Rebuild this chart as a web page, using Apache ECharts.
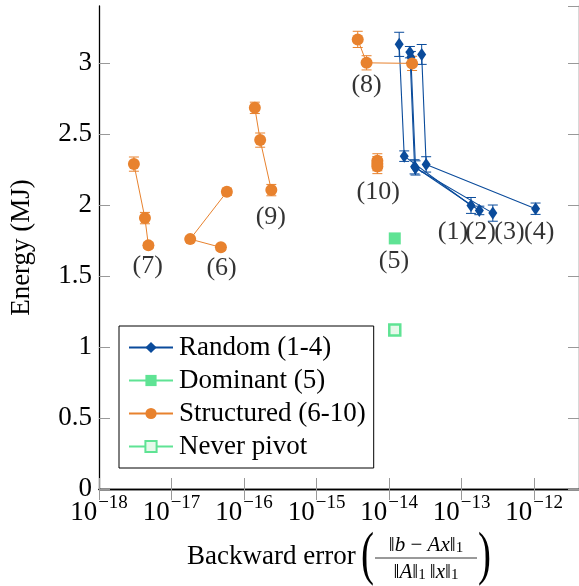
<!DOCTYPE html>
<html>
<head>
<meta charset="utf-8">
<script src="https://cdn.jsdelivr.net/npm/echarts@6/dist/echarts.min.js"></script>
<style>
  html, body { margin: 0; padding: 0; background: #fff; }
  #chart { width: 579px; height: 586px; }
</style>
</head>
<body>
<div id="chart"></div>
<script>
// data
var randomX = [
  [1.38e-14, 1.62e-14, 1.35e-13],
  [1.94e-14, 2.25e-14, 1.76e-13],
  [2.0e-14, 2.32e-14, 2.7e-13],
  [2.82e-14, 3.25e-14, 1.05e-12]
];
var randomY = [
  [3.13, 2.343, 1.996],
  [3.075, 2.268, 1.961],
  [3.04, 2.26, 1.942],
  [3.059, 2.285, 1.973]
];
var randomErr = [
  [0.085, 0.037, 0.056],
  [0.04, 0.05, 0.03],
  [0.04, 0.05, 0.057],
  [0.07, 0.054, 0.04]
];

var dominantX = [1.2e-14];
var dominantY = [1.764];

var neverX = [1.2e-14];
var neverY = [1.119];

// groups (6), (7), (8), (9), (10)
var structX = [
  [4.8e-17, 1.81e-17, 5.8e-17],
  [3.03e-18, 4.3e-18, 4.8e-18],
  [3.7e-15, 4.9e-15, 2.08e-14],
  [1.41e-16, 1.67e-16, 2.38e-16],
  [6.9e-15, 6.9e-15, 6.9e-15]
];
var structY = [
  [1.701, 1.759, 2.092],
  [2.287, 1.907, 1.715],
  [3.165, 3.0, 2.996],
  [2.683, 2.456, 2.104],
  [2.31, 2.29, 2.27]
];
var structErr = [
  [0.02, 0.02, 0.025],
  [0.05, 0.04, 0.02],
  [0.057, 0.05, 0.05],
  [0.04, 0.05, 0.04],
  [0.05, 0.05, 0.05]
];

var labelText = ['(1)', '(2)', '(3)', '(4)', '(5)', '(6)', '(7)', '(8)', '(9)', '(10)'];
var labelX = [7.6e-14, 1.84e-13, 4.58e-13, 1.18e-12, 1.17e-14, 4.9e-17, 4.7e-18, 4.9e-15, 2.34e-16, 7.1e-15];
var labelY = [1.809, 1.809, 1.809, 1.809, 1.604, 1.555, 1.569, 2.843, 1.914, 2.09];

var blue = '#0a4b9b';
var orange = '#e8822e';
var green = '#5fe394';
var serif = 'Liberation Serif, DejaVu Serif, serif';
var fs = 27;

function zip(xs, ys) {
  var out = [];
  for (var i = 0; i < xs.length; ++i) out.push([xs[i], ys[i]]);
  return out;
}

function zip3(xs, ys, es) {
  var out = [];
  for (var i = 0; i < xs.length; ++i) out.push([xs[i], ys[i], es[i]]);
  return out;
}

function errorBars(color, data) {
  return {
    type: 'custom',
    z: 1,
    silent: true,
    data: data,
    renderItem: function (params, api) {
      var x = api.value(0), y = api.value(1), e = api.value(2);
      var top = api.coord([x, y + e]);
      var bot = api.coord([x, y - e]);
      var w = 5;
      var st = { stroke: color, lineWidth: 1 };
      return {
        type: 'group',
        children: [
          { type: 'line', shape: { x1: top[0], y1: top[1], x2: bot[0], y2: bot[1] }, style: st },
          { type: 'line', shape: { x1: top[0] - w, y1: top[1], x2: top[0] + w, y2: top[1] }, style: st },
          { type: 'line', shape: { x1: bot[0] - w, y1: bot[1], x2: bot[0] + w, y2: bot[1] }, style: st }
        ]
      };
    }
  };
}

var series = [];

for (var i = 0; i < randomX.length; ++i) {
  series.push({
    name: 'Random (1-4)',
    type: 'line',
    z: 3,
    symbol: 'diamond',
    symbolSize: [9, 13],
    itemStyle: { color: blue },
    lineStyle: { color: blue, width: 1.1 },
    data: zip(randomX[i], randomY[i])
  });
  series.push(errorBars(blue, zip3(randomX[i], randomY[i], randomErr[i])));
}

series.push({
  name: 'Dominant (5)',
  type: 'line',
  z: 3,
  symbol: 'rect',
  symbolSize: 12,
  itemStyle: { color: green },
  lineStyle: { color: green, width: 1 },
  data: zip(dominantX, dominantY)
});

for (var j = 0; j < structX.length; ++j) {
  series.push({
    name: 'Structured (6-10)',
    type: 'line',
    z: 3,
    symbol: 'circle',
    symbolSize: 12,
    itemStyle: { color: orange },
    lineStyle: { color: orange, width: 1 },
    data: zip(structX[j], structY[j])
  });
  series.push(errorBars(orange, zip3(structX[j], structY[j], structErr[j])));
}

series.push({
  name: 'Never pivot',
  type: 'line',
  z: 3,
  symbol: 'rect',
  symbolSize: 11,
  itemStyle: { color: '#e6f9ea', borderColor: green, borderWidth: 2.5 },
  lineStyle: { color: green, width: 1 },
  data: zip(neverX, neverY)
});

var labelData = [];
for (var k = 0; k < labelText.length; ++k) {
  labelData.push({ value: [labelX[k], labelY[k]], name: labelText[k] });
}
series.push({
  type: 'scatter',
  silent: true,
  symbolSize: 0,
  z: 4,
  data: labelData,
  label: {
    show: true,
    position: 'inside',
    formatter: function (p) { return p.name; },
    color: '#000',
    fontFamily: serif,
    fontSize: 26
  }
});

function expLabel(v) {
  var e = Math.log10(v);
  var r = Math.round(e);
  if (Math.abs(e - r) > 1e-6) return '';
  return '{b|10}{s|\u2212' + Math.abs(r) + '}';
}

var tickStyle = { show: true, inside: true, length: 11, lineStyle: { color: '#999', width: 1 } };

var mathRich = {
  n: { fontFamily: serif, fontSize: 21, fill: '#000', verticalAlign: 'bottom', lineHeight: 22 },
  i: { fontFamily: serif, fontSize: 21, fontStyle: 'italic', fill: '#000', verticalAlign: 'bottom', lineHeight: 22 },
  u: { fontFamily: serif, fontSize: 15, fill: '#000', verticalAlign: 'bottom', lineHeight: 18 }
};

var chart = echarts.init(document.getElementById('chart'), null, { renderer: 'canvas' });

var option = {
  animation: false,
  backgroundColor: '#fff',
  grid: { left: 99, right: -3, top: 6, bottom: 97 },
  legend: {
    orient: 'vertical',
    left: 119,
    top: 326,
    data: ['Random (1-4)', 'Dominant (5)', 'Structured (6-10)', 'Never pivot'],
    backgroundColor: '#fff',
    borderColor: '#000',
    borderWidth: 1,
    padding: [8, 8, 8, 9],
    itemWidth: 44,
    itemHeight: 14,
    itemGap: 6,
    selectedMode: false,
    textStyle: { fontFamily: serif, fontSize: fs, lineHeight: 27, color: '#000', padding: [0, 0, 0, 1] }
  },
  xAxis: [{
    type: 'log',
    logBase: 10,
    min: 1e-18,
    max: Math.pow(10, -11.38),
    axisLine: { show: true, lineStyle: { color: '#000', width: 1.3 } },
    axisTick: tickStyle,
    splitLine: { show: false },
    axisLabel: {
      margin: 5,
      formatter: expLabel,
      showMaxLabel: false,
      rich: {
        b: { fontFamily: serif, fontSize: fs, color: '#000', verticalAlign: 'bottom', lineHeight: 32 },
        s: { fontFamily: serif, fontSize: 19, color: '#000', verticalAlign: 'top', lineHeight: 32, padding: [0, 0, 0, 1] }
      }
    }
  }, {
    type: 'log',
    logBase: 10,
    position: 'top',
    min: 1e-18,
    max: Math.pow(10, -11.38),
    axisLine: { show: true, lineStyle: { color: '#000', width: 1.3 } },
    axisTick: tickStyle,
    splitLine: { show: false },
    axisLabel: { show: false }
  }],
  yAxis: [{
    type: 'value',
    min: 0,
    max: 3.4,
    interval: 0.5,
    name: 'Energy (MJ)',
    nameLocation: 'middle',
    nameRotate: 90,
    nameGap: 64,
    nameTextStyle: { fontFamily: serif, fontSize: fs, color: '#000' },
    axisLine: { show: true, lineStyle: { color: '#000', width: 1.3 } },
    axisTick: tickStyle,
    splitLine: { show: false },
    axisLabel: {
      margin: 7,
      fontFamily: serif,
      fontSize: fs,
      color: '#000',
      showMaxLabel: false
    }
  }, {
    type: 'value',
    position: 'right',
    min: 0,
    max: 3.4,
    interval: 0.5,
    axisLine: { show: true, lineStyle: { color: '#000', width: 1.3 } },
    axisTick: tickStyle,
    splitLine: { show: false },
    axisLabel: { show: false }
  }],
  graphic: [
    {
      type: 'text', left: 187, top: 543,
      style: { text: 'Backward error', fontFamily: serif, fontSize: fs, fill: '#000' }
    },
    {
      type: 'text', left: 361, top: 527,
      style: { text: '(', fontFamily: serif, fontSize: 60, fill: '#000' }, scaleX: 0.65
    },
    {
      type: 'text', left: 478, top: 527,
      style: { text: ')', fontFamily: serif, fontSize: 60, fill: '#000' }, scaleX: 0.65
    },
    {
      type: 'text', x: 426, y: 545,
      style: {
        text: '{n|\u2016}{i|b}{n| \u2212 }{i|Ax}{n|\u2016}{u|1}', rich: mathRich,
        align: 'center', verticalAlign: 'middle'
      }
    },
    {
      type: 'line', shape: { x1: 375, y1: 558, x2: 477, y2: 558 },
      style: { stroke: '#000', lineWidth: 0.8 }
    },
    {
      type: 'text', x: 426, y: 572,
      style: {
        text: '{n|\u2016}{i|A}{n|\u2016}{u|1}{n|\u2009\u2016}{i|x}{n|\u2016}{u|1}', rich: mathRich,
        align: 'center', verticalAlign: 'middle'
      }
    }
  ],
  series: series
};

chart.setOption(option);
</script>
</body>
</html>
